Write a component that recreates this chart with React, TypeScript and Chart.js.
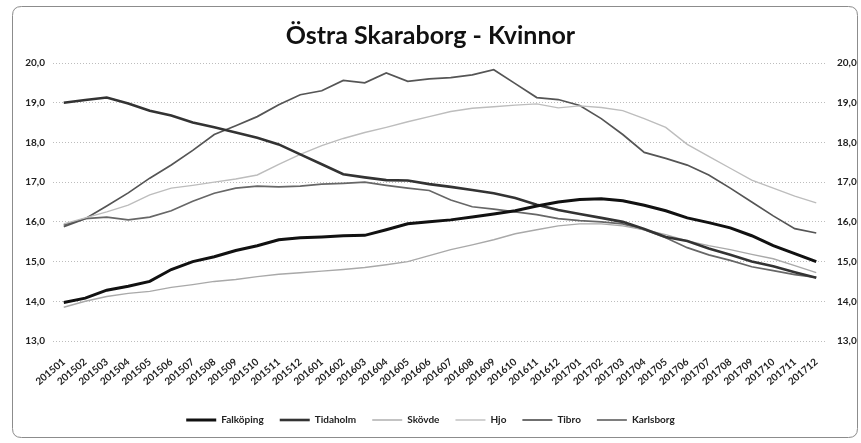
import React, { useEffect, useRef } from 'react';
import { Chart, registerables } from 'chart.js';

Chart.register(...registerables);

const months = [
  '201501', '201502', '201503', '201504', '201505', '201506', '201507', '201508', '201509', '201510', '201511', '201512',
  '201601', '201602', '201603', '201604', '201605', '201606', '201607', '201608', '201609', '201610', '201611', '201612',
  '201701', '201702', '201703', '201704', '201705', '201706', '201707', '201708', '201709', '201710', '201711', '201712',
];

const falkoping = [13.97, 14.08, 14.28, 14.38, 14.5, 14.8, 15.0, 15.12, 15.28, 15.4, 15.55, 15.6, 15.62, 15.65, 15.66, 15.8, 15.95, 16.0, 16.05, 16.12, 16.2, 16.28, 16.4, 16.5, 16.56, 16.58, 16.53, 16.42, 16.28, 16.1, 15.98, 15.85, 15.65, 15.4, 15.2, 15.0];
const tidaholm = [19.0, 19.07, 19.13, 18.98, 18.8, 18.68, 18.5, 18.38, 18.25, 18.12, 17.95, 17.7, 17.45, 17.2, 17.12, 17.05, 17.04, 16.95, 16.88, 16.8, 16.72, 16.6, 16.43, 16.3, 16.2, 16.1, 16.0, 15.82, 15.62, 15.52, 15.33, 15.17, 15.0, 14.88, 14.73, 14.59];
const skovde = [13.85, 14.0, 14.12, 14.2, 14.25, 14.35, 14.42, 14.5, 14.55, 14.62, 14.68, 14.72, 14.76, 14.8, 14.85, 14.92, 15.0, 15.15, 15.3, 15.42, 15.55, 15.7, 15.8, 15.9, 15.95, 15.95, 15.9, 15.8, 15.68, 15.52, 15.4, 15.3, 15.18, 15.07, 14.9, 14.72];
const hjo = [15.95, 16.1, 16.25, 16.42, 16.68, 16.85, 16.92, 17.0, 17.08, 17.18, 17.45, 17.7, 17.92, 18.1, 18.25, 18.38, 18.52, 18.65, 18.78, 18.86, 18.9, 18.94, 18.97, 18.87, 18.92, 18.88, 18.8, 18.6, 18.38, 17.95, 17.65, 17.35, 17.05, 16.85, 16.65, 16.48];
const tibro = [15.88, 16.08, 16.4, 16.73, 17.1, 17.43, 17.8, 18.2, 18.42, 18.65, 18.95, 19.2, 19.3, 19.56, 19.5, 19.75, 19.54, 19.6, 19.63, 19.7, 19.83, 19.48, 19.13, 19.08, 18.93, 18.6, 18.2, 17.75, 17.6, 17.43, 17.18, 16.85, 16.5, 16.15, 15.83, 15.72];
const karlsborg = [15.92, 16.08, 16.12, 16.05, 16.12, 16.28, 16.52, 16.72, 16.85, 16.9, 16.88, 16.9, 16.95, 16.97, 17.0, 16.92, 16.85, 16.79, 16.55, 16.38, 16.32, 16.25, 16.18, 16.08, 16.03, 16.0, 15.95, 15.8, 15.6, 15.35, 15.17, 15.03, 14.87, 14.77, 14.67, 14.6];

const seriesNames = ['Falköping', 'Tidaholm', 'Skövde', 'Hjo', 'Tibro', 'Karlsborg'];
const seriesValues = [falkoping, tidaholm, skovde, hjo, tibro, karlsborg];
const seriesColors = ['#111111', '#333333', '#a9a9a9', '#bdbdbd', '#555555', '#676767'];
const seriesWidths = [3, 2.6, 1.4, 1.4, 1.7, 1.7];

const yMin = 13;
const yMax = 20;
const titleText = 'Östra Skaraborg - Kvinnor';

const fmt = (v: number) => Number(v).toFixed(1).replace('.', ',');
const FONT = 'Lato, "Open Sans", sans-serif';

const framePlugin = {
  id: 'frame',
  beforeDraw(chart: any) {
    const ctx = chart.ctx;
    ctx.save();
    ctx.fillStyle = '#ffffff';
    ctx.fillRect(0, 0, chart.width, chart.height);
    const x = 12.5, y = 6.5, w = 845, h = 431, r = 9;
    ctx.beginPath();
    ctx.moveTo(x + r, y);
    ctx.lineTo(x + w - r, y);
    ctx.quadraticCurveTo(x + w, y, x + w, y + r);
    ctx.lineTo(x + w, y + h - r);
    ctx.quadraticCurveTo(x + w, y + h, x + w - r, y + h);
    ctx.lineTo(x + r, y + h);
    ctx.quadraticCurveTo(x, y + h, x, y + h - r);
    ctx.lineTo(x, y + r);
    ctx.quadraticCurveTo(x, y, x + r, y);
    ctx.closePath();
    ctx.strokeStyle = '#8c8c8c';
    ctx.lineWidth = 1;
    ctx.stroke();
    ctx.restore();
  },
};

export default function App() {
  const ref = useRef<HTMLCanvasElement | null>(null);

  useEffect(() => {
    if (!ref.current) return;
    const chart = new Chart(ref.current, {
      type: 'line',
      data: {
        labels: months,
        datasets: seriesNames.map((name, i) => ({
          label: name,
          data: seriesValues[i],
          borderColor: seriesColors[i],
          backgroundColor: seriesColors[i],
          borderWidth: seriesWidths[i],
          pointRadius: 0,
          pointHoverRadius: 0,
          tension: 0,
          fill: false,
          yAxisID: 'y',
        })),
      },
      options: {
        animation: false,
        responsive: false,
        devicePixelRatio: 1,
        layout: { padding: { left: 0, right: 0, top: 0, bottom: 8 } },
        plugins: {
          tooltip: { enabled: false },
          title: {
            display: true,
            text: titleText,
            color: '#111111',
            font: { family: FONT, size: 25, weight: 'bold' },
            padding: { top: 21, bottom: 12 },
          },
          legend: {
            display: true,
            position: 'bottom',
            labels: {
              usePointStyle: true,
              pointStyle: 'line',
              pointStyleWidth: 30,
              boxWidth: 30,
              padding: 16,
              color: '#222222',
              font: { family: FONT, size: 10, weight: 'bold' },
            },
          },
        },
        scales: {
          x: {
            type: 'category',
            offset: true,
            grid: { display: false, drawTicks: false },
            border: { display: false },
            ticks: {
              autoSkip: false,
              minRotation: 40,
              maxRotation: 40,
              padding: 15,
              color: '#222222',
              font: { family: FONT, size: 10, weight: 'bold' },
            },
            afterFit: (s: any) => { s.height = 58; },
          },
          y: {
            position: 'left',
            min: yMin,
            max: yMax,
            grid: { color: '#bdbdbd', drawTicks: false, lineWidth: 1 },
            border: { display: false, dash: [1, 2] },
            ticks: {
              stepSize: 1,
              padding: 8,
              color: '#222222',
              font: { family: FONT, size: 10, weight: 'bold' },
              callback: (v: any) => fmt(v),
            },
            afterFit: (s: any) => { s.width = 53; },
          },
          y2: {
            position: 'right',
            min: yMin,
            max: yMax,
            grid: { display: false, drawTicks: false },
            border: { display: false },
            ticks: {
              stepSize: 1,
              padding: 10,
              color: '#222222',
              font: { family: FONT, size: 10, weight: 'bold' },
              callback: (v: any) => fmt(v),
            },
            afterFit: (s: any) => { s.width = 34; },
          },
        },
      },
      plugins: [framePlugin],
    } as any);
    return () => chart.destroy();
  }, []);

  return (
    <div style={{ position: 'fixed', left: 0, top: 0, width: 861, height: 443, background: '#fff' }}>
      <canvas ref={ref} width={861} height={443} style={{ display: 'block', width: 861, height: 443 }} />
    </div>
  );
}
